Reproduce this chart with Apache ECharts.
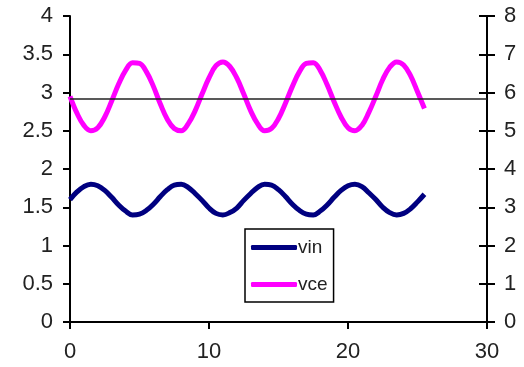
<!DOCTYPE html>
<html>
<head>
<meta charset="utf-8">
<script src="https://cdn.jsdelivr.net/npm/echarts@6/dist/echarts.min.js"></script>
<style>
  html, body { margin: 0; padding: 0; background: #fff; }
  #chart { width: 524px; height: 367px; }
</style>
</head>
<body>
<div id="chart"></div>
<script>
// x positions (step 0.5)
var xs = [0, 0.5, 1, 1.5, 2, 2.5, 3, 3.5, 4, 4.5, 5, 5.5, 6, 6.5, 7, 7.5, 8, 8.5, 9, 9.5,
  10, 10.5, 11, 11.5, 12, 12.5, 13, 13.5, 14, 14.5, 15, 15.5, 16, 16.5, 17, 17.5, 18, 18.5, 19, 19.5,
  20, 20.5, 21, 21.5, 22, 22.5, 23, 23.5, 24, 24.5, 25, 25.5];

// vin, left axis
var vin = [1.60, 1.70, 1.77, 1.80, 1.78, 1.72, 1.63, 1.53, 1.45, 1.40, 1.41, 1.46, 1.54, 1.64, 1.73, 1.79, 1.80, 1.76, 1.68, 1.59,
  1.49, 1.42, 1.40, 1.43, 1.49, 1.59, 1.68, 1.76, 1.80, 1.79, 1.73, 1.64, 1.54, 1.46, 1.41, 1.40, 1.45, 1.53, 1.63, 1.72,
  1.78, 1.80, 1.77, 1.69, 1.60, 1.50, 1.43, 1.40, 1.42, 1.48, 1.57, 1.67];

// vce, right axis
var vce = [5.90, 5.46, 5.14, 5.00, 5.08, 5.36, 5.78, 6.22, 6.58, 6.78, 6.76, 6.54, 6.16, 5.70, 5.30, 5.06, 5.00, 5.18, 5.52, 5.96,
  6.38, 6.70, 6.80, 6.68, 6.38, 5.96, 5.52, 5.18, 5.00, 5.06, 5.32, 5.72, 6.16, 6.54, 6.76, 6.78, 6.58, 6.20, 5.76, 5.36,
  5.08, 5.00, 5.14, 5.48, 5.90, 6.34, 6.66, 6.80, 6.72, 6.44, 6.02, 5.58];

var refLevel = 5.84;

function pairs(a, b) {
  var out = [];
  for (var i = 0; i < a.length; i++) out.push([a[i], b[i]]);
  return out;
}

var myChart = echarts.init(document.getElementById('chart'));

var axisFont = { fontFamily: 'Liberation Sans', fontSize: 22, color: '#222' };
var tickStyle = { color: '#000', width: 2 };

var option = {
  animation: false,
  grid: { left: 70, right: 37, top: 16, bottom: 45 },
  legend: {
    orient: 'vertical',
    left: 245,
    top: 229,
    width: 95,
    padding: [9, 6, 8, 6],
    borderColor: '#000',
    borderWidth: 1.5,
    backgroundColor: '#fff',
    itemWidth: 46,
    itemHeight: 5,
    itemGap: 18,
    textStyle: { fontFamily: 'Liberation Sans', fontSize: 19, color: '#222', padding: [0, 0, 0, -4] },
    data: [{ name: 'vin', icon: 'roundRect' }, { name: 'vce', icon: 'roundRect' }]
  },
  xAxis: {
    type: 'value',
    min: 0, max: 30, interval: 10,
    axisLine: { lineStyle: tickStyle },
    axisTick: { show: true, length: 7, lineStyle: tickStyle },
    axisLabel: Object.assign({ margin: 19 }, axisFont),
    splitLine: { show: false }
  },
  yAxis: [
    {
      type: 'value',
      min: 0, max: 4, interval: 0.5,
      axisLine: { show: true, lineStyle: tickStyle },
      axisTick: { show: true, length: 7, lineStyle: tickStyle },
      axisLabel: Object.assign({ margin: 17 }, axisFont),
      splitLine: { show: false }
    },
    {
      type: 'value',
      position: 'right',
      min: 0, max: 8, interval: 1,
      axisLine: { show: true, lineStyle: tickStyle },
      axisTick: { show: true, length: 8, lineStyle: tickStyle },
      axisLabel: Object.assign({ margin: 17 }, axisFont),
      splitLine: { show: false }
    },
    {
      // inner half of the crossing ticks on the right axis
      type: 'value',
      position: 'right',
      min: 0, max: 8, interval: 1,
      axisLine: { show: false },
      axisTick: { show: true, inside: true, length: 8, lineStyle: tickStyle },
      axisLabel: { show: false },
      splitLine: { show: false }
    }
  ],
  series: [
    {
      name: 'vin',
      type: 'line',
      yAxisIndex: 0,
      smooth: 0.4,
      showSymbol: false,
      symbol: 'none',
      color: '#000080',
      lineStyle: { width: 5, color: '#000080' },
      data: pairs(xs, vin)
    },
    {
      name: 'vce',
      type: 'line',
      yAxisIndex: 1,
      smooth: 0.4,
      showSymbol: false,
      symbol: 'none',
      color: '#ff00ff',
      lineStyle: { width: 5, color: '#ff00ff' },
      data: pairs(xs, vce),
      markLine: {
        silent: true,
        symbol: 'none',
        label: { show: false },
        lineStyle: { color: '#222', width: 1.5, type: 'solid' },
        data: [{ yAxis: refLevel }]
      }
    }
  ]
};

myChart.setOption(option);
</script>
</body>
</html>
